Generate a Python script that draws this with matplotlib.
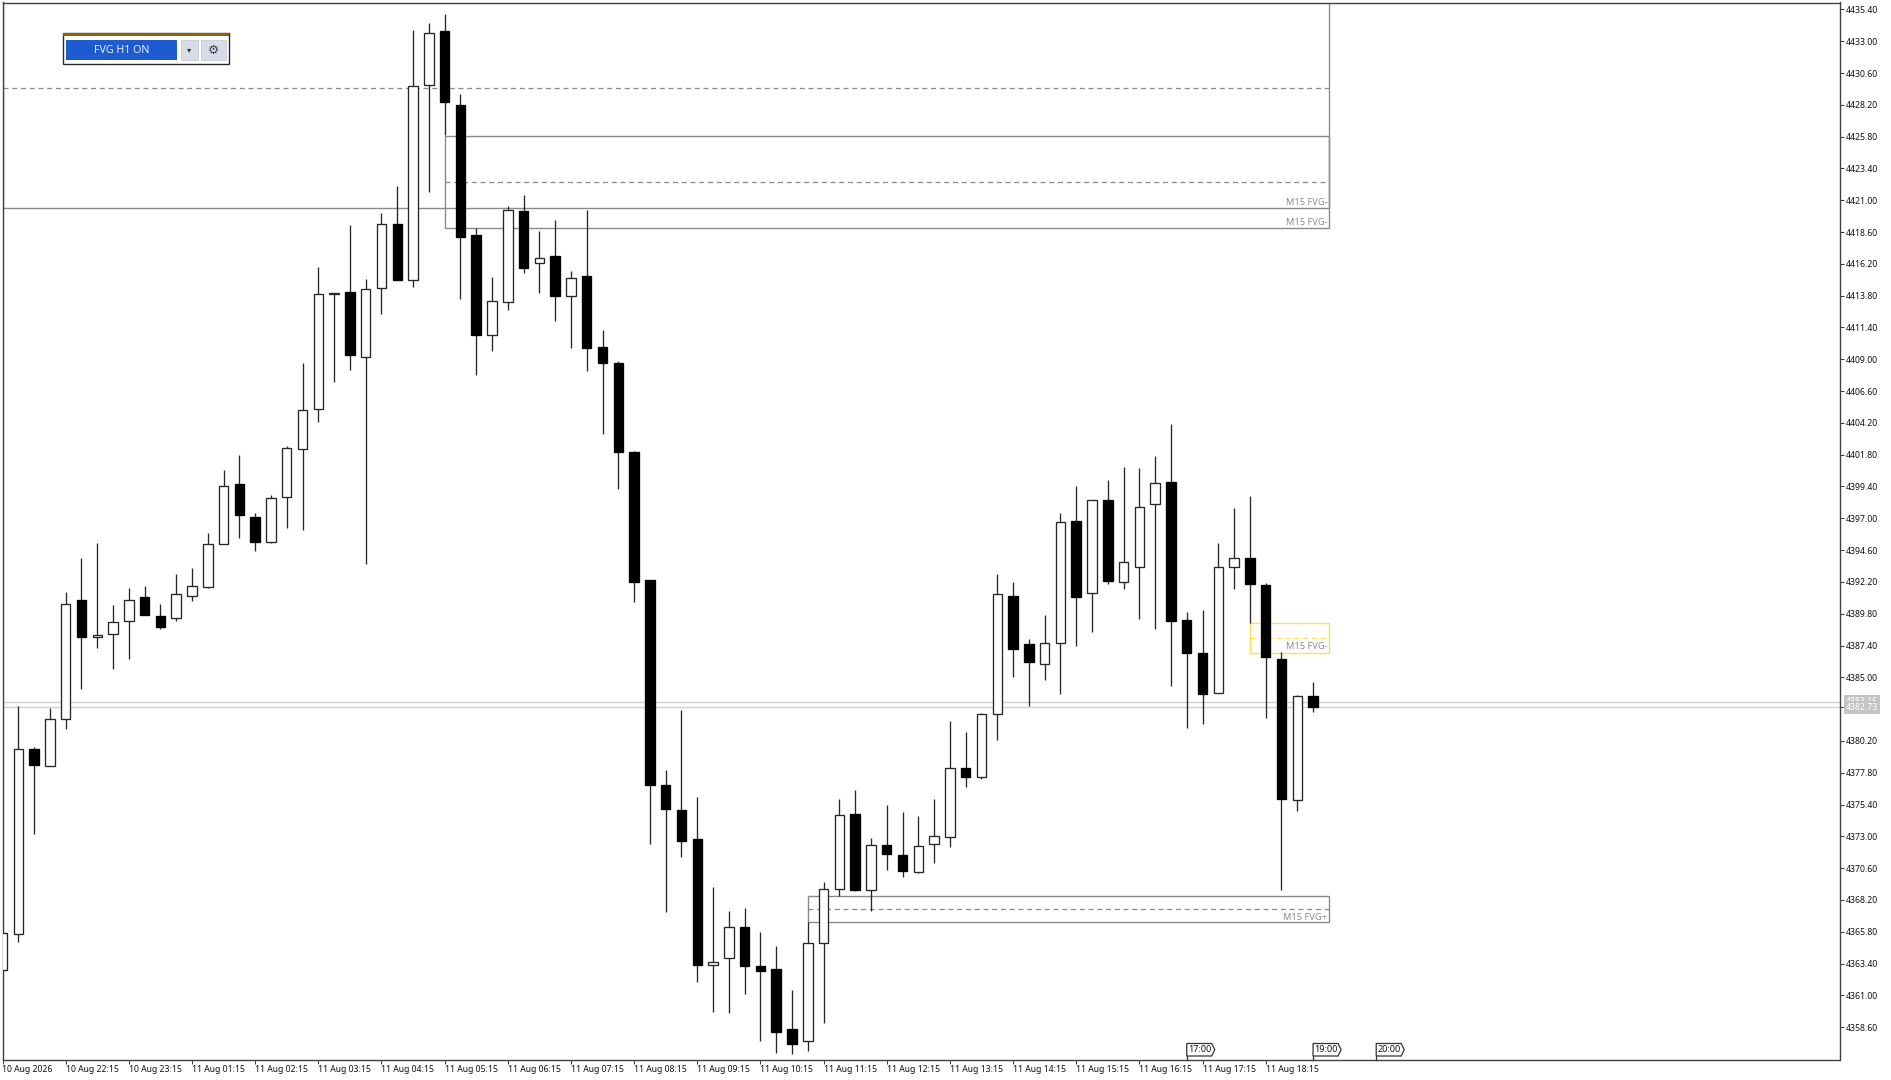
import matplotlib
matplotlib.use("Agg")
import matplotlib.pyplot as plt
from matplotlib.patches import Rectangle, Polygon
from matplotlib.transforms import ScaledTranslation

plt.rcParams['font.family'] = ['Noto Sans', 'DejaVu Sans']

# M15 candles
opens = [4362.91, 4365.60, 4379.57, 4378.33, 4381.83, 4390.81, 4388.02, 4388.25, 4389.23, 4391.04, 4389.60, 4389.50,
         4391.16, 4391.79, 4395.04, 4399.59, 4397.12, 4395.19, 4398.61, 4402.25, 4405.23, 4413.93, 4414.06, 4409.20,
         4414.40, 4419.19, 4415.01, 4429.68, 4433.80, 4428.21, 4418.38, 4410.83, 4413.35, 4420.17, 4416.24, 4416.82,
         4413.80, 4415.26, 4409.95, 4408.70, 4402.00, 4392.32, 4376.87, 4375.01, 4372.77, 4363.29, 4363.82, 4366.13,
         4363.23, 4363.01, 4358.46, 4357.55, 4364.92, 4369.02, 4374.71, 4368.95, 4372.34, 4371.59, 4370.28, 4372.40,
         4372.97, 4378.13, 4377.44, 4382.21, 4391.16, 4387.51, 4386.03, 4387.59, 4396.82, 4391.38, 4398.40, 4392.19,
         4393.32, 4398.08, 4399.74, 4389.30, 4386.86, 4383.79, 4393.32, 4394.00, 4391.99, 4386.40, 4375.74, 4383.57]
highs = [4365.68, 4382.83, 4379.72, 4382.68, 4391.41, 4394.00, 4395.10, 4390.43, 4391.76, 4391.87, 4390.53, 4392.82,
         4393.27, 4395.87, 4400.64, 4401.75, 4397.38, 4398.78, 4402.46, 4408.70, 4415.99, 4413.97, 4419.14, 4415.08,
         4420.02, 4422.10, 4433.87, 4434.40, 4435.06, 4429.00, 4418.89, 4415.19, 4420.59, 4421.42, 4418.68, 4419.51,
         4415.64, 4420.24, 4411.23, 4408.89, 4402.08, 4392.32, 4378.00, 4382.55, 4375.99, 4369.20, 4367.34, 4367.57,
         4365.78, 4364.74, 4361.38, 4366.51, 4369.57, 4375.84, 4376.49, 4372.85, 4375.39, 4374.81, 4374.51, 4375.84,
         4381.72, 4380.85, 4382.33, 4392.82, 4392.21, 4387.91, 4389.68, 4397.42, 4399.46, 4398.38, 4399.89, 4400.87,
         4400.80, 4401.68, 4404.09, 4389.93, 4390.06, 4395.14, 4397.80, 4398.71, 4392.09, 4386.89, 4383.64, 4384.62]
lows = [4362.91, 4365.00, 4373.17, 4378.33, 4381.08, 4384.14, 4387.19, 4385.63, 4386.36, 4389.72, 4388.67, 4389.27,
        4390.76, 4391.72, 4395.04, 4395.54, 4394.55, 4395.11, 4396.27, 4396.12, 4404.24, 4407.31, 4408.19, 4393.53,
        4412.44, 4414.98, 4414.48, 4421.60, 4425.93, 4413.57, 4407.81, 4409.63, 4412.74, 4415.49, 4414.03, 4411.91,
        4409.83, 4408.14, 4403.36, 4399.23, 4390.68, 4372.44, 4367.31, 4371.46, 4362.00, 4359.76, 4359.64, 4361.10,
        4357.55, 4356.62, 4356.57, 4356.80, 4358.89, 4368.49, 4368.87, 4367.39, 4370.48, 4369.95, 4370.23, 4371.01,
        4372.22, 4376.74, 4377.35, 4380.27, 4385.02, 4382.86, 4384.80, 4383.76, 4387.38, 4388.44, 4392.02, 4391.64,
        4389.42, 4388.67, 4384.34, 4381.15, 4381.45, 4383.79, 4391.64, 4389.08, 4381.91, 4368.95, 4374.89, 4382.40]
closes = [4365.68, 4379.57, 4378.40, 4381.85, 4390.51, 4388.02, 4388.19, 4389.15, 4390.81, 4389.72, 4388.77, 4391.26,
          4391.87, 4395.04, 4399.44, 4397.25, 4395.19, 4398.55, 4402.28, 4405.17, 4413.90, 4413.97, 4409.32, 4414.33,
          4419.19, 4414.98, 4429.60, 4433.63, 4428.40, 4418.25, 4410.83, 4413.38, 4420.24, 4415.87, 4416.64, 4413.80,
          4415.16, 4409.85, 4408.72, 4402.00, 4392.17, 4376.85, 4375.04, 4372.67, 4363.29, 4363.51, 4366.13, 4363.21,
          4362.83, 4358.23, 4357.33, 4364.92, 4369.02, 4374.63, 4368.92, 4372.32, 4371.69, 4370.36, 4372.25, 4373.00,
          4378.13, 4377.50, 4382.23, 4391.31, 4387.14, 4386.15, 4387.59, 4396.74, 4391.06, 4398.38, 4392.27, 4393.68,
          4397.85, 4399.66, 4389.23, 4386.83, 4383.76, 4393.32, 4394.00, 4392.04, 4386.53, 4375.82, 4383.57, 4382.73]

# x axis
date_ticks = list(range(0, 84, 4))
date_labels = ["10 Aug 2026", "10 Aug 22:15", "10 Aug 23:15", "11 Aug 01:15", "11 Aug 02:15", "11 Aug 03:15",
               "11 Aug 04:15", "11 Aug 05:15", "11 Aug 06:15", "11 Aug 07:15", "11 Aug 08:15", "11 Aug 09:15",
               "11 Aug 10:15", "11 Aug 11:15", "11 Aug 12:15", "11 Aug 13:15", "11 Aug 14:15", "11 Aug 15:15",
               "11 Aug 16:15", "11 Aug 17:15", "11 Aug 18:15"]

# y axis, 4382.60 is hidden by the price tag
price_ticks = [4435.40, 4433.00, 4430.60, 4428.20, 4425.80, 4423.40, 4421.00, 4418.60, 4416.20, 4413.80, 4411.40,
               4409.00, 4406.60, 4404.20, 4401.80, 4399.40, 4397.00, 4394.60, 4392.20, 4389.80, 4387.40, 4385.00,
               4380.20, 4377.80, 4375.40, 4373.00, 4370.60, 4368.20, 4365.80, 4363.40, 4361.00, 4358.60]

# FVG zones: start bar, bottom, top, middle
box_start = [0, 28, 51, 79]
box_bottom = [4420.44, 4418.89, 4366.51, 4386.86]
box_top = [4440.00, 4425.87, 4368.49, 4389.10]
box_mid = [4429.45, 4422.38, 4367.54, 4387.97]
box_color = ["#8a8a8a", "#8a8a8a", "#8a8a8a", "#FFE04D"]
box_end = 84
label_text = ["M15 FVG-", "M15 FVG-", "M15 FVG+", "M15 FVG-"]
label_price = [4420.85, 4419.30, 4366.90, 4387.30]

bid_ask = [4383.16, 4382.73]
time_bars = [75, 83, 87]
time_labels = ["17:00", "19:00", "20:00"]

W, H = 1891, 1080
fig = plt.figure(figsize=(W / 100, H / 100), dpi=100, facecolor="white")
ax = fig.add_axes([2.5 / W, (H - 1059.5) / H, (1839.5 - 2.5) / W, (1059.5 - 2.5) / H])
ax.set_xlim(0, 116.34)
ax.set_ylim(4356.155, 4435.928)

for side in ax.spines.values():
    side.set_linewidth(1.0)
    side.set_color("#404040")

# levels sit under the candles
for y in bid_ask:
    ax.axhline(y, color="#cfcfcf", lw=1.0, zorder=1)
for s, b, t, m, c in zip(box_start, box_bottom, box_top, box_mid, box_color):
    ax.add_patch(Rectangle((s, b), box_end - s, t - b, fill=False, ec=c, lw=1.0, zorder=2))
    ax.hlines(m, s, box_end, color=c, lw=0.9, linestyle=(0, (4, 3)), zorder=2)
for t, p, c in zip(label_text, label_price, box_color):
    ax.annotate(t, (box_end, p), xytext=(-1.5, 0), textcoords="offset pixels", ha="right", va="center",
                fontsize=6.7, color="#8c8c8c", zorder=2)

bars = list(range(len(opens)))
ax.vlines(bars, lows, highs, color="#262626", lw=0.95, zorder=3)
up = [i for i in bars if closes[i] >= opens[i]]
down = [i for i in bars if closes[i] < opens[i]]
ax.bar(up, [closes[i] - opens[i] for i in up], bottom=[opens[i] for i in up], width=0.6,
       fc="white", ec="#262626", lw=0.95, zorder=4)
ax.bar(down, [opens[i] - closes[i] for i in down], bottom=[closes[i] for i in down], width=0.6,
       fc="black", ec="black", lw=0.95, zorder=4)

ax.set_xticks(date_ticks)
ax.set_xticklabels(date_labels, ha="left", fontsize=6.25, color="#111111")
shift = ScaledTranslation(-1 / 100, 0, fig.dpi_scale_trans)
for lab in ax.get_xticklabels():
    lab.set_transform(lab.get_transform() + shift)
ax.yaxis.tick_right()
ax.set_yticks(price_ticks + [bid_ask[1]])
ax.set_yticklabels([f"{p:.2f}" for p in price_ticks] + [""], fontsize=6.25, color="#111111")
ax.tick_params(axis="both", length=3.2, width=0.75, color="#404040", pad=1)

for y in bid_ask:
    ax.annotate(f"{y:.2f}", (1, y), xycoords=ax.get_yaxis_transform(), xytext=(22.5, 0),
                textcoords="offset pixels", ha="center", va="center", fontsize=6.25, color="white",
                annotation_clip=False, zorder=6,
                bbox=dict(fc="#c4c4c4", ec="none", boxstyle="square,pad=0.2"))

# overlay in pixels for the panel and time tags
ui = fig.add_axes([0, 0, 1, 1], facecolor="none")
ui.set_xlim(0, W)
ui.set_ylim(H, 0)
ui.axis("off")

ui.add_patch(Rectangle((62.5, 32.5), 166, 31.5, fc="white", ec="#2a2a2a", lw=1.0))
ui.add_patch(Rectangle((62.5, 32.5), 166, 3, fc="#8B6508", ec="none"))
ui.add_patch(Rectangle((66, 40), 111, 19.5, fc="#1F5BD0", ec="none"))
ui.text(121.5, 50.5, "FVG H1 ON", color="#E6EEFF", fontsize=7.7, ha="center", va="center")
ui.add_patch(Rectangle((181, 40), 17, 20, fc="#D8DCE6", ec="#C8CCD6", lw=0.6))
ui.text(189.3, 50, "▾", color="#333333", fontsize=6, ha="center", va="center", family="DejaVu Sans")
ui.add_patch(Rectangle((200.5, 40), 25.5, 20, fc="#D8DCE6", ec="#C8CCD6", lw=0.6))
ui.text(213, 50.3, "⚙", color="#3a3f55", fontsize=9, ha="center", va="center", family="DejaVu Sans")

for b, t in zip(time_bars, time_labels):
    x0 = ax.transData.transform((b, 0))[0]
    ui.add_patch(Polygon([(x0, 1043.5), (x0 + 25, 1043.5), (x0 + 28, 1049.7), (x0 + 25, 1056), (x0, 1056)],
                         closed=True, fc="white", ec="#333333", lw=0.9))
    ui.plot([x0, x0], [1056, 1059.5], color="#333333", lw=0.9)
    ui.text(x0 + 13, 1049.7, t, fontsize=6.5, color="#111111", ha="center", va="center")

fig.savefig("out.png", dpi=100)
